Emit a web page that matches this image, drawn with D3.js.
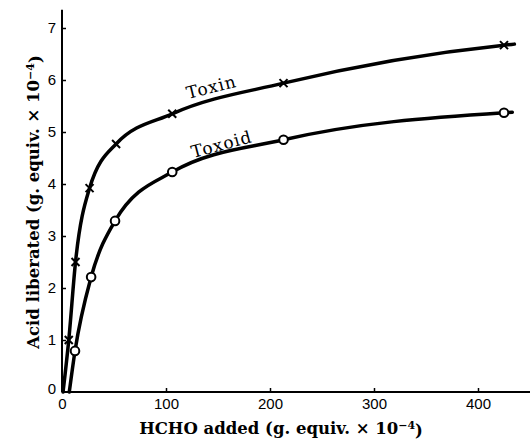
<!DOCTYPE html>
<html><head><meta charset="utf-8">
<script src="https://cdn.jsdelivr.net/npm/d3@7"></script>
<style>body{margin:0;background:#fff}svg{display:block}</style>
</head><body>
<svg id="c" width="530" height="442"></svg>
<script>
// Data
const toxinX = [6.5, 13, 26.5, 52, 106, 213, 425];
const toxinY = [1.0, 2.5, 3.92, 4.77, 5.35, 5.94, 6.67];
const toxoidX = [12.5, 28, 51, 106, 213, 425];
const toxoidY = [0.79, 2.21, 3.29, 4.23, 4.85, 5.37];
// curve start / end (unmarked) points
const toxinStart = [1, 0], toxinEnd = [435, 6.69];
const toxoidStart = [7, 0], toxoidEnd = [433, 5.38];
const xTicks = [0, 100, 200, 300, 400];
const yTicks = [0, 1, 2, 3, 4, 5, 6, 7];

const svg = d3.select('#c');
const x = d3.scaleLinear().domain([0, 450]).range([62, 530]);
const y = d3.scaleLinear().domain([0, 7]).range([392, 28]);

// axes
const xAxis = d3.axisBottom(x).tickValues(xTicks).tickFormat(d3.format('d')).tickSizeInner(-4).tickSizeOuter(0).tickPadding(6);
const gx = svg.append('g').attr('transform', `translate(0,${y(0)})`).call(xAxis);
gx.select('.domain').remove();
gx.append('line').attr('x1', x(0)).attr('x2', x(450)).attr('stroke', '#000').attr('stroke-width', 2);
gx.selectAll('.tick line').attr('stroke-width', 1.5).filter(d => d === 0).remove();
gx.selectAll('.tick text').attr('font-family', 'Liberation Sans, Arial, sans-serif').attr('font-size', 15).attr('fill', '#000');

const yAxis = d3.axisLeft(y).tickValues(yTicks).tickFormat(d3.format('d')).tickSizeInner(-4).tickSizeOuter(0).tickPadding(6);
const gy = svg.append('g').attr('transform', `translate(${x(0)},0)`).call(yAxis);
gy.select('.domain').remove();
gy.append('line').attr('y1', y(0)).attr('y2', y(7.35)).attr('stroke', '#000').attr('stroke-width', 2);
gy.selectAll('.tick line').attr('stroke-width', 1.5).filter(d => d === 0).remove();
gy.selectAll('.tick text').attr('font-family', 'Liberation Sans, Arial, sans-serif').attr('font-size', 15).attr('fill', '#000');
gy.selectAll('.tick').filter(d => d === 0).select('text').attr('dy', '0.1em');

// curves
const line = d3.line().x(d => x(d[0])).y(d => y(d[1])).curve(d3.curveMonotoneX);
const toxinPts = [toxinStart, ...toxinX.map((v, i) => [v, toxinY[i]]), toxinEnd];
const toxoidPts = [toxoidStart, ...toxoidX.map((v, i) => [v, toxoidY[i]]), toxoidEnd];
[toxinPts, toxoidPts].forEach(p => {
  svg.append('path').attr('d', line(p)).attr('fill', 'none').attr('stroke', '#000')
    .attr('stroke-width', 3.5).attr('stroke-linecap', 'round');
});

// markers
const s = 4;
svg.append('g').selectAll('path').data(toxinX.map((v, i) => [v, toxinY[i]])).join('path')
  .attr('transform', d => `translate(${x(d[0])},${y(d[1])})`)
  .attr('d', `M${-s},${-s}L${s},${s}M${-s},${s}L${s},${-s}`)
  .attr('stroke', '#000').attr('stroke-width', 2).attr('fill', 'none');
svg.append('g').selectAll('circle').data(toxoidX.map((v, i) => [v, toxoidY[i]])).join('circle')
  .attr('cx', d => x(d[0])).attr('cy', d => y(d[1])).attr('r', 4.3)
  .attr('fill', '#fff').attr('stroke', '#000').attr('stroke-width', 2);

// curve labels
svg.append('text').attr('transform', 'translate(188,99) rotate(-14)')
  .attr('font-family', 'DejaVu Serif, serif').attr('font-size', 17).attr('letter-spacing', 1)
  .text('Toxin');
svg.append('text').attr('transform', 'translate(193,158) rotate(-15)')
  .attr('font-family', 'DejaVu Serif, serif').attr('font-size', 17).attr('letter-spacing', 1)
  .text('Toxoid');

// axis titles
function title(sel, main) {
  sel.attr('font-family', 'DejaVu Serif, serif').attr('font-weight', 'bold').attr('font-size', 16.5)
    .attr('text-anchor', 'middle').attr('fill', '#000');
  sel.append('tspan').text(main + ' (g. equiv. × 10');
  sel.append('tspan').attr('dy', '-0.45em').attr('font-size', 11).text('−4');
  sel.append('tspan').attr('dy', '0.45em').text(')');
}
svg.append('text').attr('x', 281).attr('y', 434).call(title, 'HCHO added');
svg.append('text').attr('transform', 'translate(39,202) rotate(-90)').call(title, 'Acid liberated');
</script>
</body></html>
